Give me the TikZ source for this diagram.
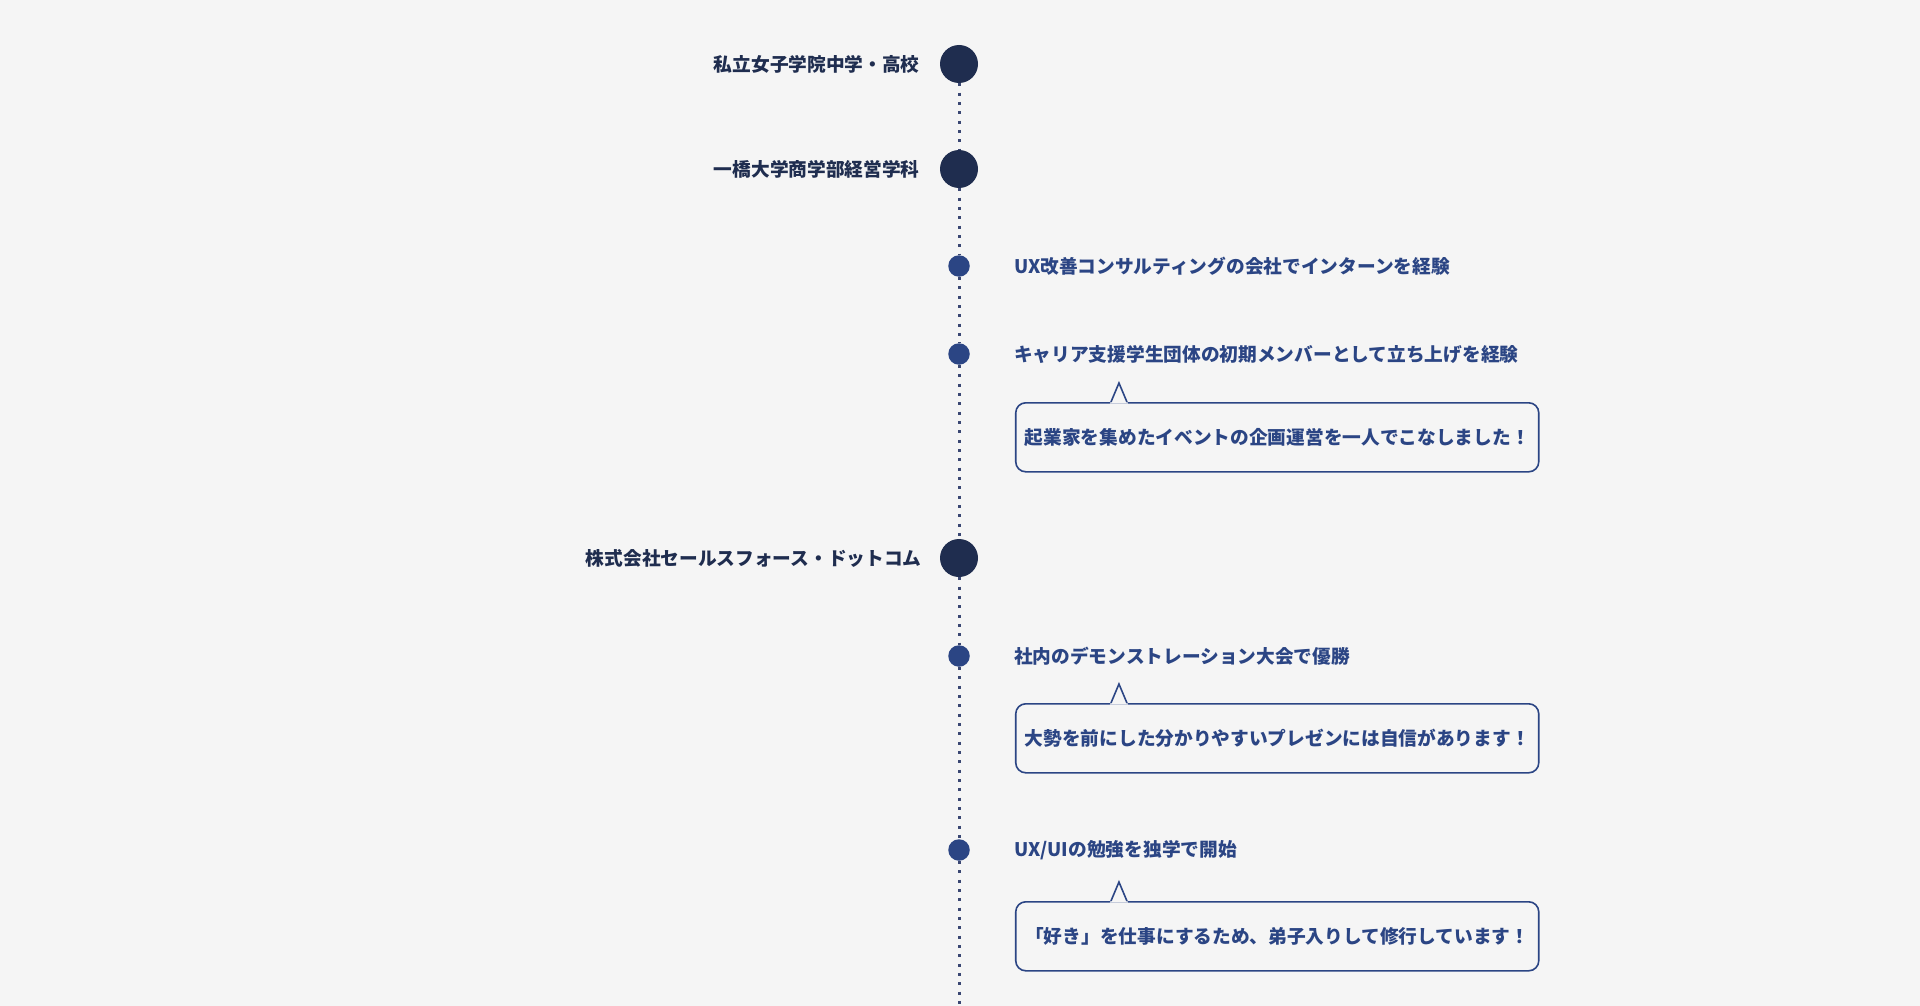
\documentclass[tikz,border=0pt]{standalone}
\usepackage{fontspec}
\newfontfamily\jpfont{Noto Sans CJK JP}
\usetikzlibrary{positioning}

\definecolor{paper}{HTML}{F5F5F5}
\definecolor{navy}{HTML}{1F2D4F}
\definecolor{royal}{HTML}{2B4584}
\definecolor{dotgray}{HTML}{3A4773}

\tikzset{
  bigdot/.style={circle,fill=navy,minimum size=38pt,inner sep=0pt,on grid},
  smalldot/.style={circle,fill=royal,minimum size=21.5pt,inner sep=0pt,on grid},
  spine/.style={draw=dotgray,line width=3pt,dash pattern=on 3pt off 6.33pt},
  era/.style={font=\jpfont\bfseries\fontsize{18.7pt}{22pt}\selectfont,text=navy,inner sep=0pt},
  event/.style={font=\jpfont\bfseries\fontsize{18.7pt}{22pt}\selectfont,text=royal,inner sep=0pt},
  note/.style={draw=royal,line width=1.6pt,rounded corners=10pt,fill=paper,
    minimum width=523pt,minimum height=69pt,inner sep=0pt,
    font=\jpfont\bfseries\fontsize{18.7pt}{22pt}\selectfont,text=royal},
  tip/.style={draw=royal,line width=1.6pt,line join=miter}
}

\begin{document}
\begin{tikzpicture}[x=1pt,y=-1pt]
  \fill[paper] (0,0) rectangle (1920,1006);
  \useasboundingbox (0,0) rectangle (1920,1006);

  % timeline
  \node[bigdot] (jhs) at (959,64) {};
  \node[bigdot,below=105pt of jhs] (univ) {};
  \node[smalldot,below=97pt of univ] (intern) {};
  \node[smalldot,below=88pt of intern] (club) {};
  \node[bigdot,below=204pt of club] (sfdc) {};
  \node[smalldot,below=98pt of sfdc] (demo) {};
  \node[smalldot,below=194pt of demo] (uxui) {};
  \coordinate[below=170pt of uxui] (tail);
  \foreach \a/\b in {jhs/univ,univ/intern,intern/club,club/sfdc,sfdc/demo,demo/uxui,uxui/tail}
    \draw[spine] (\a) -- (\b);

  % schools and employer
  \node[era,left=20pt of jhs] (jhslbl) {私立女子学院中学・高校};
  \node[era,left=20pt of univ] (univlbl) {一橋大学商学部経営学科};
  \node[era,left=18pt of sfdc] (sfdclbl) {株式会社セールスフォース・ドットコム};

  % events
  \node[event,right=44pt of intern] (internlbl) {UX改善コンサルティングの会社でインターンを経験};
  \node[event,right=44pt of club] (clublbl) {キャリア支援学生団体の初期メンバーとして立ち上げを経験};
  \node[event,right=44pt of demo] (demolbl) {社内のデモンストレーション大会で優勝};
  \node[event,right=44pt of uxui] (uxuilbl) {UX/UIの勉強を独学で開始};

  % comments
  \node[note,anchor=north west] (clubnote) at ([xshift=1pt,yshift=-48pt]clublbl.west)
    {起業家を集めたイベントの企画運営を一人でこなしました！};
  \node[note,anchor=north west] (demonote) at ([xshift=1pt,yshift=-47pt]demolbl.west)
    {大勢を前にした分かりやすいプレゼンには自信があります！};
  \node[note,anchor=north west] (uxuinote) at ([xshift=1pt,yshift=-51pt]uxuilbl.west)
    {「好き」を仕事にするため、弟子入りして修行しています！};
  \foreach \n in {clubnote,demonote,uxuinote}{
    \fill[paper] ([xshift=95pt,yshift=-1.5pt]\n.north west) -- ([xshift=104pt,yshift=19pt]\n.north west)
      -- ([xshift=113pt,yshift=-1.5pt]\n.north west) -- cycle;
    \draw[tip] ([xshift=96pt]\n.north west) -- ([xshift=104pt,yshift=19pt]\n.north west)
      -- ([xshift=112pt]\n.north west);
  }
\end{tikzpicture}
\end{document}
